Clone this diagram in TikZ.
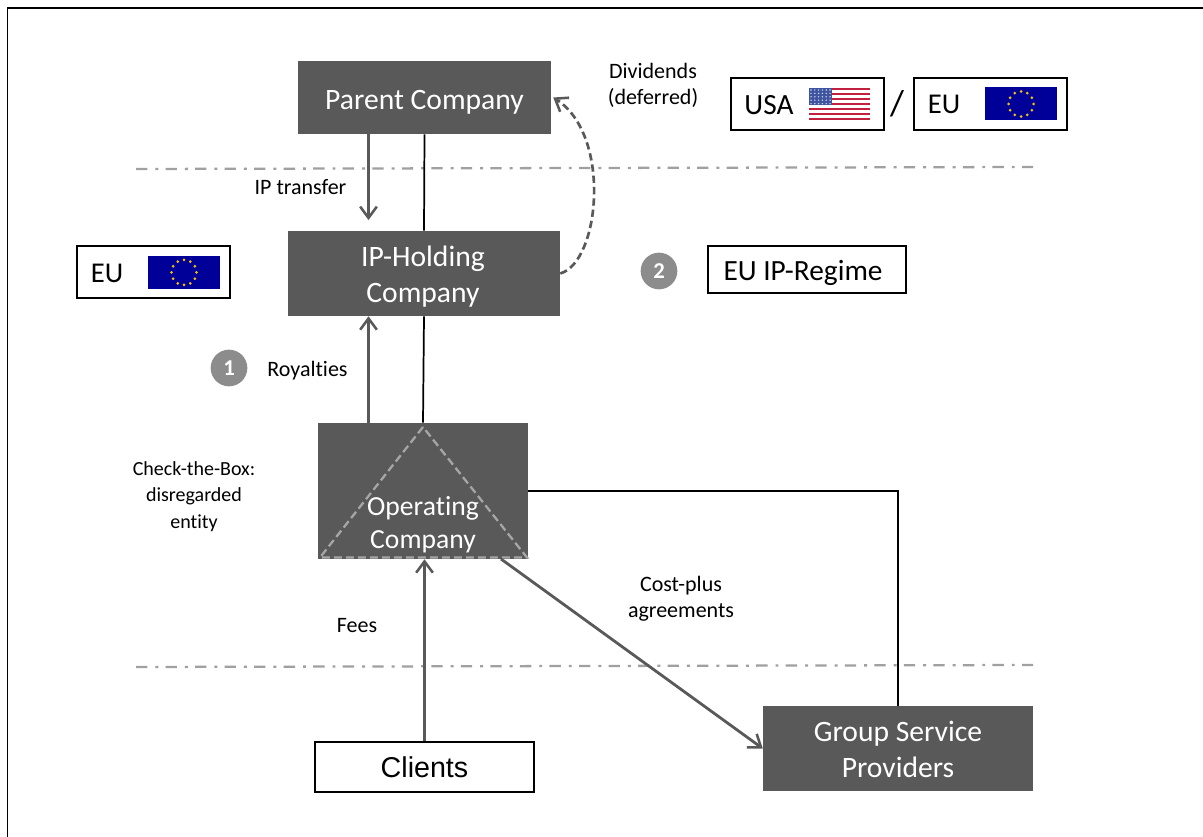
\documentclass[tikz,border=0pt]{standalone}
\usepackage{fontspec}
\setmainfont{Carlito}[Ligatures=CommonOff]
\newfontfamily\arialf{Liberation Sans}
\usetikzlibrary{arrows.meta,calc}
\definecolor{darkbox}{HTML}{595959}
\definecolor{dashgrey}{HTML}{A0A0A0}
\definecolor{trigrey}{HTML}{A6A6A6}
\definecolor{badge}{HTML}{8C8C8C}
\definecolor{eublue}{HTML}{000099}
\definecolor{eustar}{HTML}{F2C010}
\definecolor{usred}{HTML}{C2203F}
\definecolor{usblue}{HTML}{3F54A0}
\tikzset{
  x=0.75pt,y=-0.75pt,
  darknode/.style={fill=darkbox,inner sep=0pt},
  darktext/.style={text=white,inner sep=0pt,align=center,font=\fontsize{22.2}{27}\selectfont},
  whitenode/.style={draw=black,line width=1.5pt,fill=white,inner sep=0pt},
  boxtext/.style={inner sep=0pt,font=\fontsize{22}{24}\selectfont},
  lbl/.style={inner sep=0pt,align=center,font=\fontsize{16.5}{19.6}\selectfont,text=black},
  badgenode/.style={circle,fill=badge,text=white,minimum size=27.5pt,inner sep=0pt,font=\bfseries\fontsize{17}{17}\selectfont},
  sep/.style={draw=dashgrey,line width=1.7pt,dash pattern=on 8.5pt off 6pt on 2.2pt off 5.45pt},
  blackline/.style={draw=black,line width=1.3pt},
  greyarrow/.style={draw=darkbox,line width=2.1pt,-{Straight Barb[length=8.5pt,width=12.5pt,line width=1.9pt]}},
  dasharrow/.style={draw=darkbox,line width=2pt,dash pattern=on 5.5pt off 3pt,-{Straight Barb[length=8.5pt,width=12.5pt,line width=1.9pt,sep=0pt]}},
  eu flag/.pic={
    \fill[eublue] (-36,-16.5) rectangle (36,16.5);
    \foreach \a in {0,30,...,330}
      \fill[eustar] ({12.5*cos(\a)},{12.5*sin(\a)}) circle[radius=1.5];
  },
  us flag/.pic={
    \fill[white] (-30.5,-16) rectangle (30.5,16);
    \foreach \i in {0,2,...,12}
      \fill[usred] (-30.5,{-16+\i*32/13}) rectangle (30.5,{-16+(\i+1)*32/13});
    \fill[usblue] (-30.5,-16) rectangle (-8,1.2);
    \foreach \r in {0,...,4} \foreach \c in {0,...,5}
      \fill[white!75!usblue] ({-28.5+\c*3.8},{-14+\r*3.4}) circle[radius=0.8];
  },
}
\begin{document}
\begin{tikzpicture}
\useasboundingbox (0,0) rectangle (1203,837);
\fill[white] (0,0) rectangle (1203,837);
\coordinate (fbl) at (7.5,837);
\coordinate (ftl) at (7.5,8);
\coordinate (ftr) at (1203,8);
\draw[draw=black,line width=1.3pt] (fbl) -- (ftl) -- (ftr);

% separators
\coordinate (s1a) at (136,169); \coordinate (s1b) at (1033,167);
\coordinate (s2a) at (136,667); \coordinate (s2b) at (1033,665);
\draw[sep] (s1a) -- (s1b);
\draw[sep] (s2a) -- (s2b);

% main boxes
\node[darknode,minimum width=189.75pt,minimum height=54.75pt] (parent) at (424.5,97.5) {};
\node[darknode,minimum width=204pt,minimum height=63.75pt] (ip) at (424,273.5) {};
\node[darknode,minimum width=157.5pt,minimum height=102pt] (op) at (423,491) {};
\node[whitenode,minimum width=164pt,minimum height=37.5pt,font=\arialf\fontsize{21.5}{24}\selectfont] (clients) at (424.5,767) {Clients};
\node[darknode,minimum width=202.5pt,minimum height=63.75pt] (gsp) at (898,748.5) {};
\node[darktext] (parentt) at (424.5,102) {Parent Company};
\node[darktext] (ipt) at (423,276.5) {IP-Holding\\Company};
\node[darktext] (gspt) at (898,749) {Group Service\\Providers};

% triangle
\coordinate (ta) at (423,427);
\coordinate (tb) at (320,557.5);
\coordinate (tc) at (527,557.5);
\draw[draw=trigrey,line width=1.7pt,dash pattern=on 6pt off 3pt] (ta) -- (tb) -- (tc) -- cycle;
\node[darktext,font=\fontsize{20.7}{25}\selectfont] (optext) at (423,525) {Operating\\Company};

% connectors
\coordinate (ax) at (368.5,0);
\coordinate (opd) at (501,559);
\draw[blackline] (parent.south) -- (ip.north);
\draw[blackline] (ip.south) -- (op.north);
\draw[blackline] (op.east) -| (gsp.north);
\draw[greyarrow,shorten >=8pt] (parent.south -| ax) -- (ip.north -| ax);
\draw[greyarrow] (op.north -| ax) -- (ip.south -| ax);
\draw[greyarrow] (clients.north) -- (clients.north |- op.south);
\draw[greyarrow] (opd) -- (gsp.west);
\coordinate (dstart) at (ip.east);
\coordinate (dend) at (parent.east);
\draw[dasharrow] (dstart) .. controls (600,262) and (612,135) .. ($(dend)+(2,0)$);

% small boxes
\node[whitenode,minimum width=114.75pt,minimum height=39pt] (usa) at (807.5,104) {};
\node[whitenode,minimum width=114.75pt,minimum height=39pt] (eu1) at (990.5,104) {};
\node[whitenode,minimum width=114.75pt,minimum height=39pt] (eu2) at (153.5,272) {};
\node[whitenode,minimum width=148.5pt,minimum height=35.25pt] (regime) at (807,269.5) {};
\node[boxtext] (regimet) at (803,273) {EU IP-Regime};
\node[boxtext] (usat) at (769,105) {USA};
\node[boxtext,font=\fontsize{21.5}{24}\selectfont] (eu1t) at (944,104) {EU};
\node[boxtext,font=\fontsize{21.5}{24}\selectfont] (eu2t) at (107,273) {EU};
\node[inner sep=0pt,font=\fontsize{27}{30}\selectfont] (slash) at (897,104) {/};
\pic at (839.5,104) {us flag};
\pic at (1021,104) {eu flag};
\pic at (184,272.5) {eu flag};

% badges
\node[badgenode] (b1) at (229,368) {1};
\node[badgenode] (b2) at (659,271) {2};

% labels
\node[lbl] (l1) at (653,85) {Dividends\\(deferred)};
\node[lbl] (l2) at (300.5,187.5) {IP transfer};
\node[lbl] (l3) at (307.5,371) {Royalties};
\node[lbl,font=\fontsize{15}{19.8}\selectfont] (l4) at (194,496.5) {Check-the-Box:\\disregarded\\entity};
\node[lbl] (l5) at (357,626) {Fees};
\node[lbl] (l6) at (681,598.5) {Cost-plus\\agreements};
\end{tikzpicture}
\end{document}
